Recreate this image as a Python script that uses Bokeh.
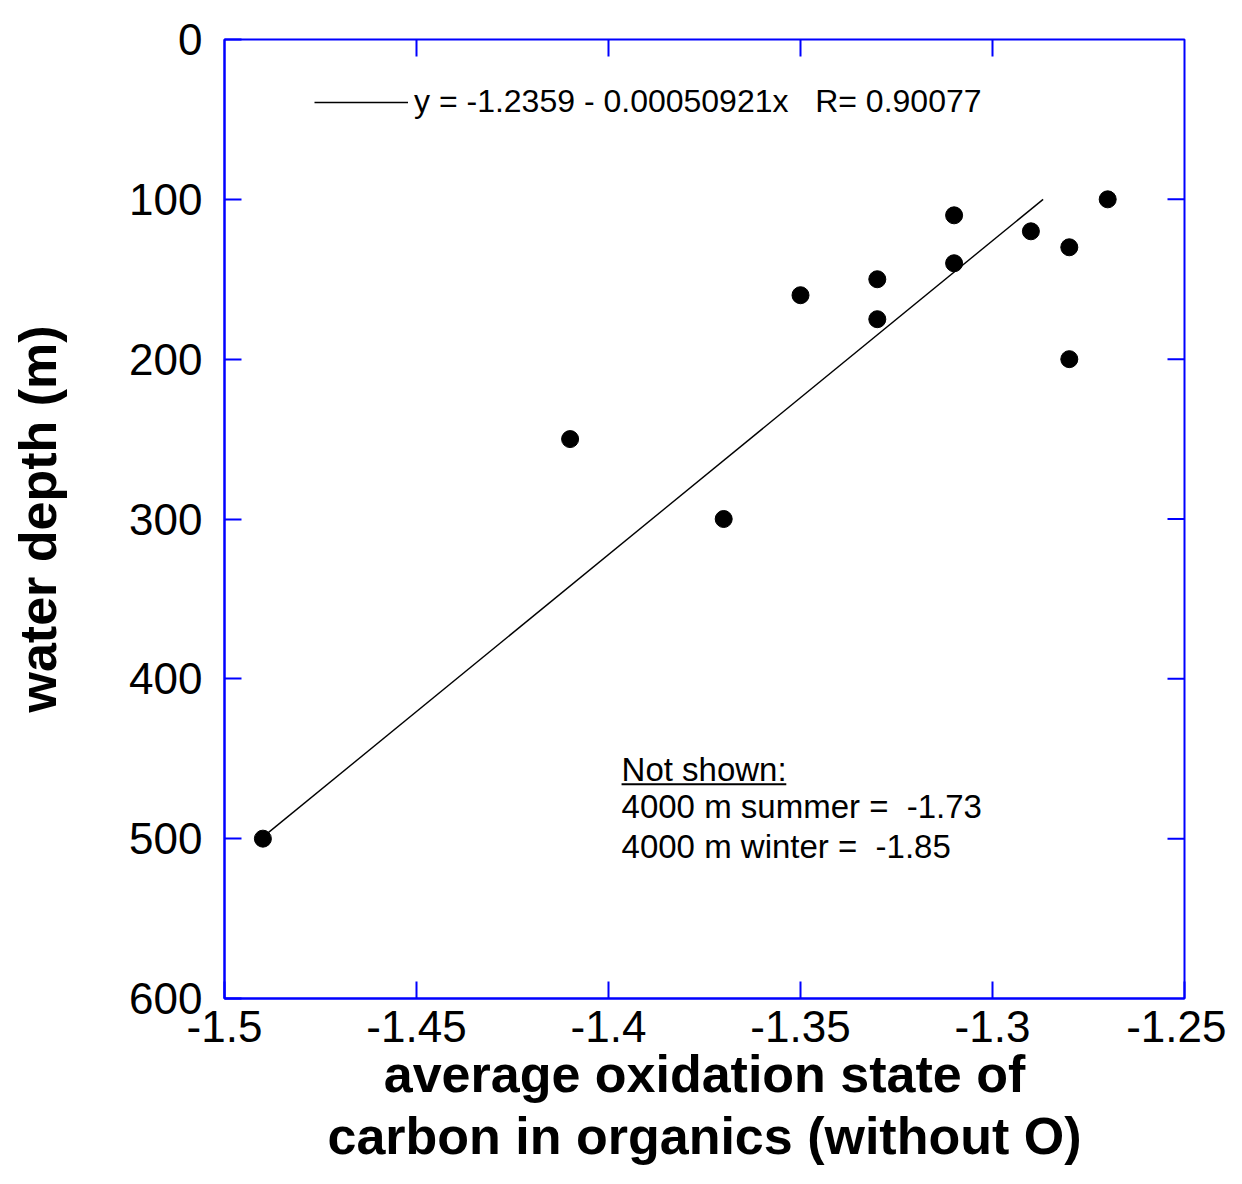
from bokeh.plotting import figure
from bokeh.models import (Range1d, LinearAxis, FixedTicker, Legend, LegendItem,
                          Label, BoxAnnotation)
from bokeh.embed import file_html
from bokeh.resources import INLINE

# ---- data ----
oxidation_state = [-1.49, -1.41, -1.37, -1.35, -1.33, -1.33, -1.31, -1.31, -1.29, -1.28, -1.28, -1.27]
water_depth = [500, 250, 300, 160, 150, 175, 110, 140, 120, 130, 200, 100]

fit_intercept = -1.2359
fit_slope = -0.00050921
fit_r = 0.90077

x_ticks = [-1.5, -1.45, -1.4, -1.35, -1.3, -1.25]
x_tick_labels = ["-1.5", "-1.45", "-1.4", "-1.35", "-1.3", "-1.25"]
y_ticks = [0, 100, 200, 300, 400, 500, 600]
y_tick_labels = ["0", "100", "200", "300", "400", "500", "600"]

x_title = "average oxidation state of\ncarbon in organics (without O)"
y_title = "water depth (m)"
note_lines = ["Not shown:", "4000 m summer = \u00a0-1.73", "4000 m winter = \u00a0-1.85"]

# regression line (x as a function of depth) over the depth span of the data
fit_depth = [min(water_depth), max(water_depth)]
fit_x = [fit_intercept + fit_slope * d for d in fit_depth]

BLUE = "#0000FF"
FONT = "Liberation Sans"
X0, X1 = -1.5, -1.25
Y0, Y1 = 0, 600
FRAME_W, FRAME_H = 960, 959
TICK_PX = 17

p = figure(width=1226, height=1168, output_backend="svg", toolbar_location=None,
           x_range=Range1d(X0, X1), y_range=Range1d(Y1, Y0),
           x_axis_location=None, y_axis_location=None,
           min_border_left=224, min_border_right=42, min_border_top=39, min_border_bottom=170)
p.grid.visible = False
p.outline_line_color = BLUE
p.outline_line_width = 2
p.background_fill_color = "white"
p.border_fill_color = "white"


def style_axis(ax):
    ax.axis_line_color = BLUE
    ax.axis_line_width = 2
    ax.major_tick_line_color = BLUE
    ax.major_tick_line_width = 2
    ax.major_tick_in = TICK_PX
    ax.major_tick_out = 0
    ax.minor_tick_line_color = None
    ax.major_label_text_font = FONT
    ax.major_label_text_color = "black"
    ax.major_label_text_font_size = "44px"
    ax.axis_label_text_font = FONT
    ax.axis_label_text_font_style = "bold"
    ax.axis_label_text_font_size = "52px"
    ax.axis_label_text_color = "black"


xb = LinearAxis(ticker=FixedTicker(ticks=x_ticks),
                major_label_overrides=dict(zip(x_ticks, x_tick_labels)),
                axis_label=x_title)
style_axis(xb)
xb.major_label_standoff = 12
xb.axis_label_standoff = 0
xb.axis_label_text_line_height = 1.08
p.add_layout(xb, "below")

yl = LinearAxis(ticker=FixedTicker(ticks=y_ticks),
                major_label_overrides=dict(zip(y_ticks, y_tick_labels)),
                axis_label=y_title)
style_axis(yl)
yl.major_label_standoff = 22
yl.axis_label_standoff = 59
p.add_layout(yl, "left")

# inward ticks on the top and right frame edges (mirroring the bottom/left axes)
tick_dx = TICK_PX * (X1 - X0) / FRAME_W
tick_dy = TICK_PX * (Y1 - Y0) / FRAME_H
top_t = x_ticks[1:-1]
p.segment(x0=top_t, y0=[Y0] * len(top_t), x1=top_t, y1=[Y0 + tick_dy] * len(top_t),
          line_color=BLUE, line_width=2)
right_t = y_ticks[1:-1]
p.segment(x0=[X1] * len(right_t), y0=right_t, x1=[X1 - tick_dx] * len(right_t), y1=right_t,
          line_color=BLUE, line_width=2)

fit_line = p.line(fit_x, fit_depth, line_color="black", line_width=1.4)
p.scatter(oxidation_state, water_depth, size=17, marker="circle",
          fill_color="black", line_color="black")

legend = Legend(items=[LegendItem(label="y = %.4f - %.8fx   R= %.5f" % (fit_intercept, -fit_slope, fit_r),
                                  renderers=[fit_line])],
                location=(90, 878), padding=0, margin=0, spacing=0,
                glyph_width=94, glyph_height=34, label_height=34, label_standoff=6,
                label_text_font=FONT, label_text_font_size="32px", label_text_color="black",
                border_line_color=None, background_fill_alpha=0)
p.add_layout(legend, "center")

note_x = -1.3966
note_depths = [456.5, 480.0, 505.0]
for txt, d in zip(note_lines, note_depths):
    p.add_layout(Label(x=note_x, y=d, text=txt, text_font=FONT, text_font_size="33px",
                       text_color="black", text_baseline="alphabetic", text_align="left"))
p.add_layout(BoxAnnotation(left=note_x, right=-1.3537, top=465.4, bottom=466.6,
                           fill_color="black", fill_alpha=1, line_color=None))

open("out.html", "w").write(file_html(p, INLINE))
